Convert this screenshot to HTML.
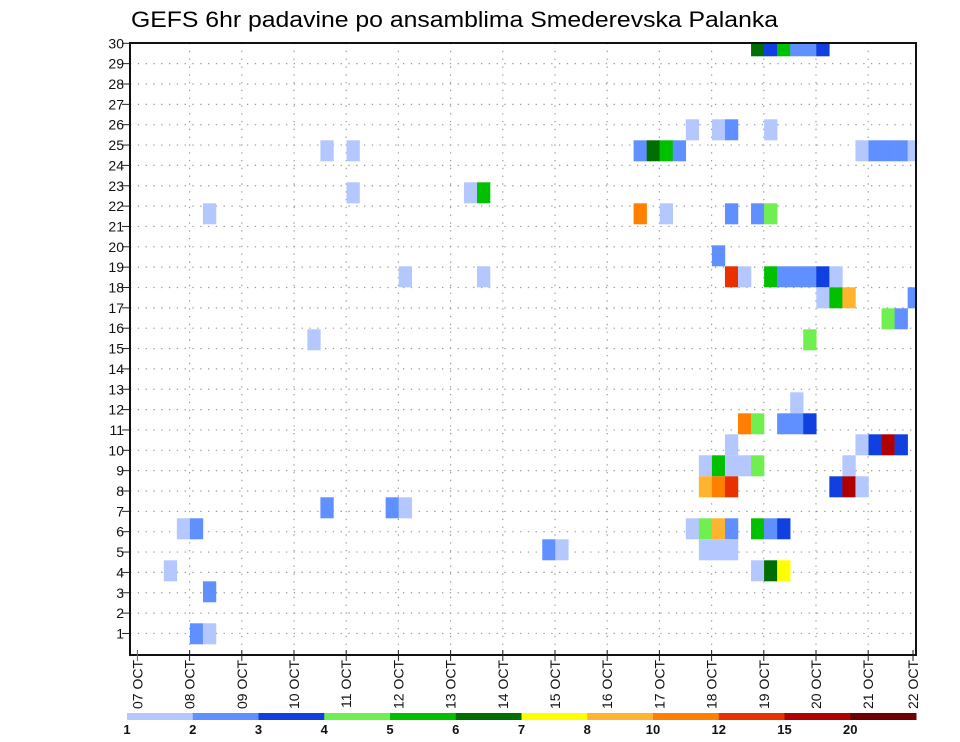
<!DOCTYPE html>
<html><head><meta charset="utf-8">
<style>
html,body{margin:0;padding:0;background:#fff;}
svg{display:block;font-family:"Liberation Sans",sans-serif;}
</style></head>
<body>
<svg id="chart" width="960" height="742" viewBox="0 0 960 742" xmlns="http://www.w3.org/2000/svg">
<text x="131" y="27" font-size="22" textLength="647" lengthAdjust="spacingAndGlyphs" fill="#000">GEFS 6hr padavine po ansamblima Smederevska Palanka</text>
<g id="grid"></g>
<g id="cells"></g>
<rect x="130" y="43" width="786" height="612" fill="none" stroke="#111" stroke-width="2"/>
<g id="yaxis"></g>
<g id="xaxis"></g>
<g id="legend"></g>
</svg>
<script>
// ---- data ----
const dayLabels = ["07 OCT","08 OCT","09 OCT","10 OCT","11 OCT","12 OCT","13 OCT","14 OCT","15 OCT","16 OCT","17 OCT","18 OCT","19 OCT","20 OCT","21 OCT","22 OCT"];
const memberTicks = [1,2,3,4,5,6,7,8,9,10,11,12,13,14,15,16,17,18,19,20,21,22,23,24,25,26,27,28,29,30];
const levelValues = [1,2,3,4,5,6,7,8,10,12,15,20];
const levelColors = ["#b4c8ff","#6090ff","#1040e0","#70f050","#00c000","#006e00","#ffff00","#ffb430","#ff8000","#e83000","#b00000","#6e0000"];
// cells: ensemble member, 6-hour step index from 07 OCT 00z, precipitation (mm)
const cellMember = [
 29,29,29,29,29,29,
 25,25,25,25,
 24,24,24,24,24,24,24,24,24,24,24,
 22,22,22,
 21,21,21,21,21,21,
 19,
 18,18,18,18,18,18,18,18,18,18,
 17,17,17,17,
 16,16,
 15,15,
 12,
 11,11,11,11,11,
 10,10,10,10,10,
 9,9,9,9,9,9,
 8,8,8,8,8,8,
 7,7,7,
 6,6,6,6,6,6,6,6,6,
 5,5,5,5,5,
 4,4,4,4,
 3,
 1,1];
const cellStep = [
 47,48,49,50,51,52,
 42,44,45,48,
 14,16,38,39,40,41,55,56,57,58,59,
 16,25,26,
 5,38,40,45,47,48,
 44,
 20,26,45,46,48,49,50,51,52,53,
 52,53,54,59,
 57,58,
 13,51,
 50,
 46,47,49,50,51,
 45,55,56,57,58,
 43,44,45,46,47,54,
 43,44,45,53,54,55,
 14,19,20,
 3,4,42,43,44,45,47,48,49,
 31,32,43,44,45,
 2,47,48,49,
 5,
 4,5];
const cellValue = [
 6,3,5,2,2,3,
 1,1,2,1,
 1,1,2,6,5,2,1,2,2,2,1,
 1,1,5,
 1,10,1,2,2,4,
 2,
 1,1,12,1,5,2,2,2,3,1,
 1,5,8,2,
 4,2,
 1,4,
 1,
 10,4,2,2,3,
 1,1,3,15,3,
 1,5,1,1,4,1,
 8,10,12,3,15,1,
 2,2,1,
 1,2,1,4,8,2,5,2,3,
 2,1,1,1,1,
 1,1,6,7,
 2,
 2,1];

const NS="http://www.w3.org/2000/svg";
function mk(tag, attrs, parent){const e=document.createElementNS(NS,tag);for(const k in attrs)e.setAttribute(k,attrs[k]);parent.appendChild(e);return e;}
// axis functions
const PL=130, PR=916, PT=43, PB=655;
const dayX = d => 137.4 + d*52.2;
const stepX = s => 137.7 + s*13.05;
const labelY = m => 43.3 + (30-m)*20.35;
const cellY = m => 633.8 - (m-1)*21;
function colorFor(v){let c=levelColors[0];for(let i=0;i<levelValues.length;i++){if(v>=levelValues[i])c=levelColors[i];}return c;}

const grid=document.getElementById('grid');
memberTicks.forEach(m=>{
  if(m===30) return;
  const l=mk('line',{x1:PL,x2:PR,y1:labelY(m),y2:labelY(m),stroke:'#999','stroke-width':1.2,'stroke-dasharray':'1.3 6.5'},grid);
  
  
});
dayLabels.forEach((d,i)=>{
  if(i===0||i===15) return;
  const l=mk('line',{x1:dayX(i),x2:dayX(i),y1:PT,y2:PB,stroke:'#999','stroke-width':1.2,'stroke-dasharray':'1.3 6.5'},grid);
  
  
});

// cells
const cells=document.getElementById('cells');
const clip=mk('clipPath',{id:'pclip'},document.getElementById('chart'));
mk('rect',{x:PL,y:PT,width:PR-PL,height:PB-PT},clip);
cells.setAttribute('clip-path','url(#pclip)');
for(let i=0;i<cellMember.length;i++){
  const x=stepX(cellStep[i]), y=cellY(cellMember[i])-10.5;
  const r=mk('rect',{x:x,y:y,width:13.3,height:21,fill:colorFor(cellValue[i])},cells);
  
  
}

// y axis
const ya=document.getElementById('yaxis');
memberTicks.forEach(m=>{
  const y=labelY(m);
  const t=mk('line',{x1:122,x2:130,y1:y,y2:y,stroke:'#222','stroke-width':1},ya);
  
  
  const tx=mk('text',{x:124,y:y+5,'font-size':14,'text-anchor':'end',fill:'#111'},ya);
  tx.textContent=m;
  
  
});

// x axis
const xa=document.getElementById('xaxis');
dayLabels.forEach((d,i)=>{
  const x = i===15 ? 913 : dayX(i);
  const t=mk('line',{x1:x,x2:x,y1:650,y2:661,stroke:i===0?'#c33':'#222','stroke-width':1},xa);
  
  
  const tx=mk('text',{x:0,y:0,'font-size':14,'text-anchor':'end',fill:'#111',transform:'translate('+(x+5)+',660) rotate(-90)'},xa);
  tx.textContent=d;
  
  
});

// colorbar
const lg=document.getElementById('legend');
const cbL=127, cbW=(916-127)/levelColors.length;
levelColors.forEach((c,i)=>{
  const r=mk('rect',{x:cbL+i*cbW,y:713,width:cbW+0.5,height:7,fill:c},lg);
  
  
});
levelValues.forEach((v,i)=>{
  const t=mk('text',{x:cbL+i*cbW,y:734,'font-size':13,'font-weight':'bold','text-anchor':'middle',fill:'#111'},lg);
  t.textContent=v;
  
  
});
</script>
</body></html>
